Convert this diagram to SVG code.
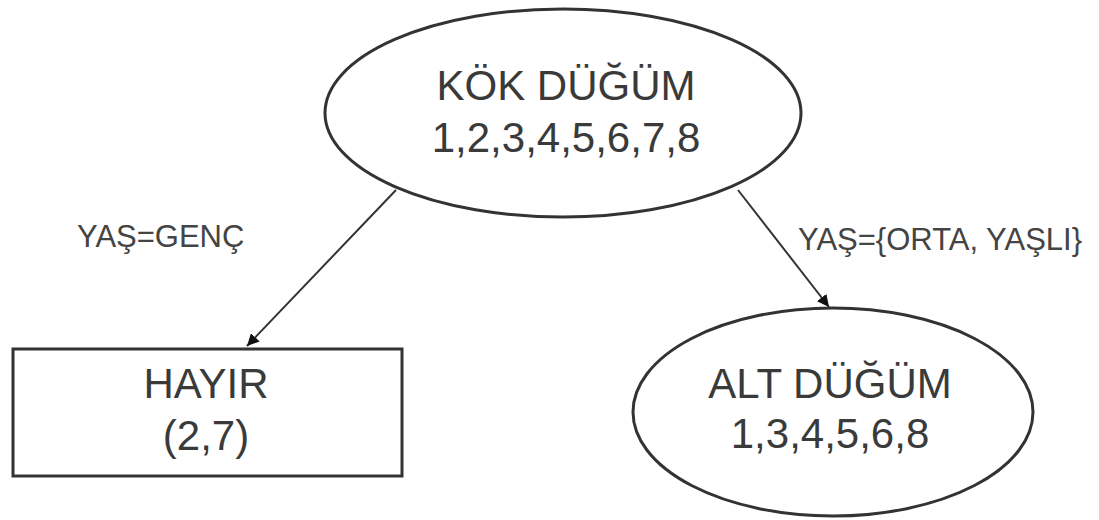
<svg xmlns="http://www.w3.org/2000/svg" width="1099" height="520" viewBox="0 0 1099 520">
<defs>
<style>
.node{fill:#fff;stroke:#333;stroke-width:3}
.t{font-family:"Liberation Sans",Arial,sans-serif;font-size:42px;fill:#3a3a3a;text-anchor:middle}
.lbl{font-family:"Liberation Sans",Arial,sans-serif;font-size:31px;fill:#444}
.edge{stroke:#333;stroke-width:2;fill:none;marker-end:url(#arr)}
</style>
<marker id="arr" viewBox="0 0 10 10" refX="10" refY="5" markerWidth="6" markerHeight="6" orient="auto" markerUnits="strokeWidth">
<path d="M0,0 L10,5 L0,10 z" fill="#111"/>
</marker>
</defs>
<rect width="1099" height="520" fill="#fff"/>
<g id="connectors">
<line class="edge" x1="396" y1="190" x2="247" y2="346"/>
<line class="edge" x1="738" y1="190" x2="829" y2="307"/>
<text class="lbl" x="77" y="247">YAŞ=GENÇ</text>
<text class="lbl" x="798" y="250">YAŞ={ORTA, YAŞLI}</text>
</g>
<g id="root">
<ellipse class="node" cx="563" cy="113" rx="238" ry="104"/>
<text class="t" x="566" y="100">KÖK DÜĞÜM</text>
<text class="t" x="566" y="152">1,2,3,4,5,6,7,8</text>
</g>
<g id="hayir">
<rect class="node" x="13" y="349" width="389" height="127" stroke-width="4"/>
<text class="t" x="206" y="398">HAYIR</text>
<text class="t" x="206" y="450">(2,7)</text>
</g>
<g id="alt">
<ellipse class="node" cx="833" cy="412" rx="200" ry="104"/>
<text class="t" x="830" y="398">ALT DÜĞÜM</text>
<text class="t" x="830" y="448">1,3,4,5,6,8</text>
</g>
</svg>
